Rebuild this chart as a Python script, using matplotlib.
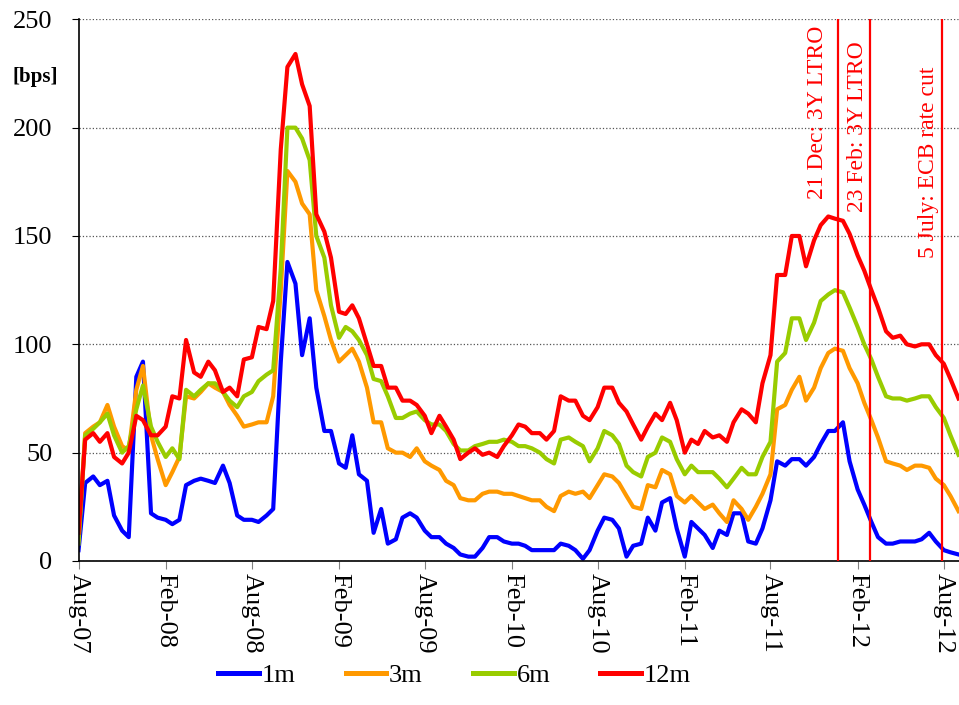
import pandas as pd
import matplotlib
matplotlib.use('Agg')
import matplotlib.pyplot as plt
import matplotlib.dates as mdates
from matplotlib.transforms import offset_copy

plt.rcParams['font.family'] = ['Liberation Serif', 'DejaVu Serif']

# semi-monthly samples (1st and 15th), Aug 2007 - Sep 2012, values in bps
dates = pd.date_range('2007-08-01', '2012-09-01', freq='SMS')

spread_1m = [5, 36, 39, 35, 37, 21, 14, 11, 85, 92, 22, 20,
             19, 17, 19, 35, 37, 38, 37, 36, 44, 36, 21, 19,
             19, 18, 21, 24, 92, 138, 128, 95, 112, 80, 60, 60,
             45, 43, 58, 40, 37, 13, 24, 8, 10, 20, 22, 20,
             14, 11, 11, 8, 6, 3, 2, 2, 6, 11, 11, 9,
             8, 8, 7, 5, 5, 5, 5, 8, 7, 5, 1, 5,
             14, 20, 19, 15, 2, 7, 8, 20, 14, 27, 29, 15,
             2, 18, 15, 12, 6, 14, 12, 22, 22, 9, 8, 15,
             28, 46, 44, 47, 47, 44, 48, 54, 60, 60, 64, 46,
             33, 26, 18, 11, 8, 8, 9, 9, 9, 10, 13, 9,
             5, 4, 3]
spread_3m = [10, 59, 62, 64, 72, 62, 53, 51, 79, 90, 58, 47,
             35, 41, 48, 76, 75, 78, 82, 80, 78, 72, 67, 62,
             63, 64, 64, 76, 125, 180, 175, 165, 160, 125, 113, 102,
             92, 95, 98, 92, 80, 64, 64, 52, 50, 50, 48, 52,
             46, 44, 42, 37, 35, 29, 28, 28, 31, 32, 32, 31,
             31, 30, 29, 28, 28, 25, 23, 30, 32, 31, 32, 29,
             35, 40, 39, 36, 30, 25, 24, 35, 34, 42, 40, 30,
             27, 30, 27, 24, 26, 22, 18, 28, 24, 19, 25, 31,
             40, 70, 72, 79, 85, 74, 80, 89, 96, 98, 97, 89,
             82, 73, 65, 57, 46, 45, 44, 42, 44, 44, 43, 38,
             35, 30, 23]
spread_6m = [8, 58, 61, 64, 68, 58, 50, 53, 70, 81, 62, 55,
             48, 52, 47, 79, 76, 79, 82, 82, 78, 74, 71, 76,
             78, 83, 86, 88, 135, 200, 200, 195, 185, 150, 140, 118,
             103, 108, 106, 102, 95, 84, 83, 76, 66, 66, 68, 69,
             65, 63, 63, 60, 54, 51, 51, 53, 54, 55, 55, 56,
             55, 53, 53, 52, 50, 47, 45, 56, 57, 55, 53, 46,
             52, 60, 58, 54, 44, 41, 39, 48, 50, 57, 55, 47,
             40, 44, 41, 41, 41, 38, 34, 38, 43, 40, 40, 48,
             55, 92, 96, 112, 112, 102, 110, 120, 123, 125, 124, 117,
             108, 100, 93, 85, 76, 75, 75, 74, 75, 76, 76, 71,
             66, 58, 49]
spread_12m = [13, 56, 59, 55, 59, 48, 45, 50, 67, 65, 58, 58,
              62, 76, 75, 102, 87, 85, 92, 88, 78, 80, 76, 93,
              94, 108, 107, 120, 190, 228, 234, 220, 210, 160, 152, 140,
              115, 114, 118, 112, 100, 90, 90, 80, 80, 74, 74, 72,
              67, 59, 67, 62, 56, 47, 50, 52, 49, 50, 48, 53,
              58, 63, 62, 59, 59, 56, 60, 76, 74, 74, 67, 65,
              71, 80, 80, 73, 69, 63, 56, 62, 68, 65, 73, 65,
              50, 56, 54, 60, 57, 58, 55, 64, 70, 68, 64, 82,
              95, 132, 132, 150, 150, 136, 148, 155, 159, 158, 157, 151,
              141, 134, 125, 117, 106, 103, 104, 100, 99, 100, 100, 95,
              91, 84, 75]

series_labels = ['1m', '3m', '6m', '12m']
series_colors = ['#0000FF', '#FF9900', '#99CC00', '#FF0000']

event_dates = pd.to_datetime(['2011-12-21', '2012-02-28', '2012-07-28'])
event_labels = ['21 Dec: 3Y LTRO', '23 Feb: 3Y LTRO', '5 July: ECB rate cut']
event_text_top = [247, 240, 228]
event_text_shift = [20, 13, 13]  # pixels left of the line

fig = plt.figure(figsize=(9.59, 7.05), dpi=100)
ax = fig.add_axes([0.0819, 0.2043, 0.9176, 0.7683])

for vals, lab, col in zip([spread_1m, spread_3m, spread_6m, spread_12m],
                          series_labels, series_colors):
    ax.plot(dates, vals, color=col, lw=3, label=lab, solid_joinstyle='round')

for d, txt, top, dx in zip(event_dates, event_labels, event_text_top, event_text_shift):
    ax.axvline(d, color='#FF0000', lw=1.6, zorder=5)
    tr = offset_copy(ax.transData, fig=fig, x=-dx, y=0, units='dots')
    ax.text(d, top, txt, rotation=90, ha='center', va='top', color='#FF0000',
            fontsize=17, transform=tr)

ax.set_xlim(pd.Timestamp('2007-08-01'), pd.Timestamp('2012-09-01'))
ax.set_ylim(0, 250)
ax.set_yticks(range(0, 251, 50))
ax.xaxis.set_major_locator(mdates.MonthLocator(bymonth=[2, 8]))
ax.xaxis.set_major_formatter(mdates.DateFormatter('%b-%y'))

ax.yaxis.grid(True, linestyle=':', color='#555555', lw=0.9)
ax.set_axisbelow(True)
for s in ['top', 'right']:
    ax.spines[s].set_visible(False)
ax.spines['left'].set_linewidth(1.2)
ax.spines['bottom'].set_linewidth(1.2)

ax.tick_params(axis='y', length=5, direction='out', labelsize=19, pad=14)
ax.tick_params(axis='x', length=6, direction='out', color='#808080',
               labelsize=19, pad=3)
for lbl in ax.get_xticklabels():
    lbl.set_rotation(270)
    lbl.set_ha('center')
    lbl.set_va('top')

fig.text(0.013, 1 - 77 / 705, '[bps]', fontsize=15, fontweight='bold', va='center')

leg = fig.legend(loc='lower center', bbox_to_anchor=(0.474, -0.008), ncol=4,
                 frameon=False, fontsize=19, handlelength=1.55, handletextpad=0.1,
                 columnspacing=1.9)
for h in leg.get_lines():
    h.set_linewidth(3.6)

fig.savefig('out.png', dpi=100)
